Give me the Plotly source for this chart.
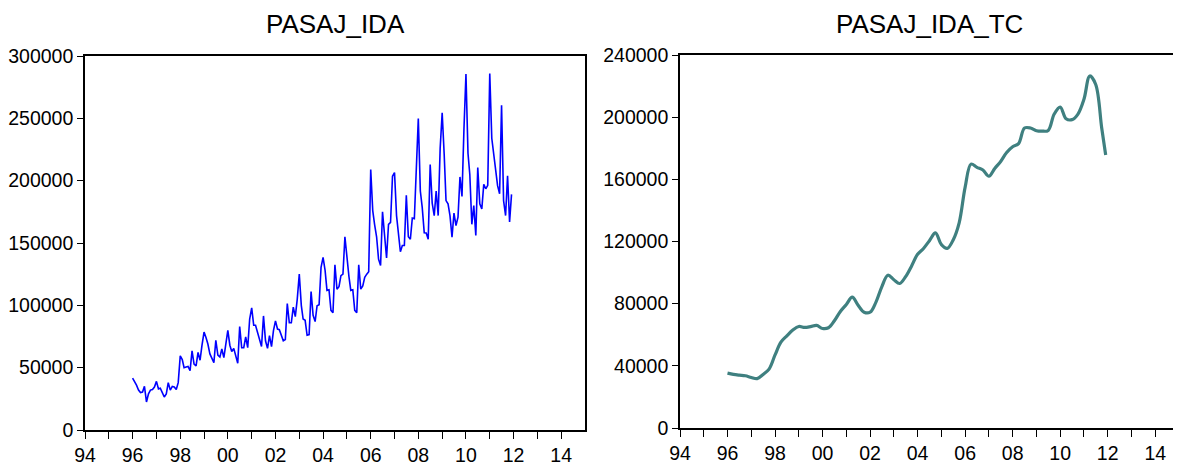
import pandas as pd
import plotly.graph_objects as go

# ---------------- data ----------------
pasaj_ida = [
    # 1996
    41600, 39000, 36000, 32000, 30000, 30500, 35000, 22500, 29000, 32000, 32500, 34500,
    # 1997
    39000, 33000, 33500, 30000, 26500, 29000, 38000, 32000, 35000, 34500, 32500, 38000,
    # 1998
    59500, 56500, 50000, 50500, 51000, 47500, 63500, 52800, 51500, 62200, 56000, 68000,
    # 1999
    78500, 74000, 69000, 61000, 57500, 54000, 72000, 60000, 58500, 65000, 58000, 70000,
    # 2000
    80000, 68000, 63000, 65500, 59000, 53600, 83000, 66000, 66000, 74600, 66000, 89000,
    # 2001
    98000, 84000, 84000, 78000, 72000, 67000, 91500, 71600, 65500, 75700, 66900, 79700,
    # 2002
    87500, 81000, 80500, 76000, 71600, 72500, 101500, 86000, 86000, 98500, 91000, 105000,
    # 2003
    125000, 100000, 89000, 88000, 76000, 76500, 111000, 92000, 87000, 99700, 100500, 130500,
    # 2004
    138500, 128000, 112000, 112500, 96000, 94000, 132500, 113000, 115000, 123800, 125000, 155000,
    # 2005
    138000, 123000, 112000, 112500, 96000, 94000, 132500, 113000, 115500, 122500, 125000, 127000,
    # 2006
    208900, 176000, 165000, 155000, 137000, 132000, 175000, 154700, 138000, 165000, 166500, 203500,
    # 2007
    206500, 172000, 156000, 143000, 148000, 148000, 188200, 155000, 153000, 170000, 169500, 216000,
    # 2008
    249900, 191700, 178600, 158200, 158000, 153000, 212900, 182000, 172000, 191700, 172000, 225700,
    # 2009
    254400, 221000, 184000, 181400, 172000, 154700, 174000, 164000, 170800, 203000, 187400, 241000,
    # 2010
    285500, 222000, 205000, 165000, 180000, 156000, 210500, 181400, 177400, 197000, 193500, 196300,
    # 2011
    286000, 234000, 222000, 210000, 196000, 189500, 260500, 184000, 172000, 204000, 166800, 189000,
]
ida_start = "1996-01-01"

# trend-cycle, read every third month (month offsets from 1996-01)
tc_months = list(range(0, 190, 3)) + [191]
pasaj_ida_tc = [
    35300, 34500, 34000, 33600, 32500, 31800, 34500, 37900, 47000, 55200,
    59300, 63000, 65300, 64700, 65200, 66000, 64000, 64500, 69000, 75000,
    79500, 84200, 79000, 74500, 74500, 81000, 91000, 98300, 95400, 93000,
    97400, 104300, 111800, 115500, 120500, 125500, 118000, 115600, 121000, 132000,
    155000, 169800, 167700, 166000, 162000, 167000, 171500, 177300, 181000, 183000,
    193000, 193000, 191300, 191000, 191500, 202000, 206500, 199000, 198400, 202000,
    211500, 226500, 221000, 193000, 175600,
]

years = list(range(1994, 2015))
tick_vals = [f"{y}-01-01" for y in years]
tick_text = [f"{y % 100:02d}" if y % 2 == 0 else "" for y in years]

left_yticks = [0, 50000, 100000, 150000, 200000, 250000, 300000]
right_yticks = [0, 40000, 80000, 120000, 160000, 200000, 240000]

# ---------------- figure ----------------
ida_dates = pd.date_range(ida_start, periods=len(pasaj_ida), freq="MS")
tc_dates = [pd.Timestamp(ida_start) + pd.DateOffset(months=m) for m in tc_months]

FONT = "Liberation Sans, Arial, sans-serif"
OFF = 8                      # page body margin
W, H = 1181 - OFF, 469 - OFF

def px_x(a, b):
    return [(a - OFF) / W, (b - OFF) / W]

def px_y(top, bottom):
    return [1 - (bottom - OFF) / H, 1 - (top - OFF) / H]

fig = go.Figure()
fig.add_trace(go.Scatter(x=ida_dates, y=pasaj_ida, mode="lines",
                         line=dict(color="#0000FF", width=1.6),
                         xaxis="x", yaxis="y", showlegend=False))
fig.add_trace(go.Scatter(x=tc_dates, y=pasaj_ida_tc, mode="lines",
                         line=dict(color="#3F8080", width=3.2, shape="spline", smoothing=1.0),
                         xaxis="x2", yaxis="y2", showlegend=False))

def xaxis(domain, anchor):
    return dict(domain=domain, anchor=anchor, type="date", automargin=False,
                range=["1994-01-01", "2015-01-01"],
                tickmode="array", tickvals=tick_vals, ticktext=tick_text,
                ticks="outside", ticklen=7, tickwidth=1.3, tickcolor="black",
                showline=True, linecolor="black", linewidth=1.6, mirror=True,
                showgrid=False, zeroline=False,
                tickfont=dict(family=FONT, size=19.5, color="black"))

def yaxis(domain, anchor, rng, vals):
    return dict(domain=domain, anchor=anchor, range=rng, automargin=False,
                tickmode="array", tickvals=vals, ticktext=[str(v) for v in vals],
                ticks="outside", ticklen=6, tickwidth=1.3, tickcolor="black",
                showline=True, linecolor="black", linewidth=1.6, mirror=True,
                showgrid=False, zeroline=False,
                tickfont=dict(family=FONT, size=19.5, color="black"))

fig.update_layout(
    width=W, height=H,
    margin=dict(l=0, r=0, t=0, b=0, autoexpand=False),
    paper_bgcolor="white", plot_bgcolor="white",
    xaxis=xaxis(px_x(85, 585), "y"),
    yaxis=yaxis(px_y(56, 430), "x", [0, 300000], left_yticks),
    xaxis2=xaxis(px_x(680, 1179), "y2"),
    yaxis2=yaxis(px_y(55, 428), "x2", [0, 240000], right_yticks),
    annotations=[
        dict(text="PASAJ_IDA", x=((85 + 585) / 2 - OFF) / W, y=1.0,
             xref="paper", yref="paper", xanchor="center", yanchor="top",
             borderpad=0, showarrow=False, font=dict(family=FONT, size=26, color="black")),
        dict(text="PASAJ_IDA_TC", x=((680 + 1179) / 2 - OFF) / W, y=1.0,
             xref="paper", yref="paper", xanchor="center", yanchor="top",
             borderpad=0, showarrow=False, font=dict(family=FONT, size=26, color="black")),
    ],
)

fig.write_html("out.html")
